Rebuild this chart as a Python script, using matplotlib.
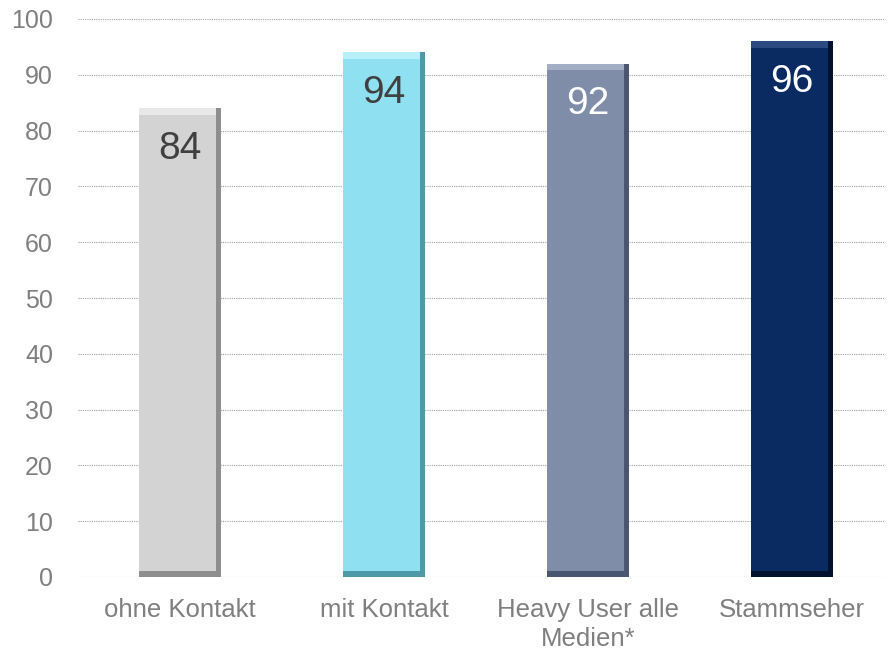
import matplotlib
matplotlib.use('Agg')
import matplotlib.pyplot as plt
import numpy as np

categories = ['ohne Kontakt', 'mit Kontakt', 'Heavy User alle\nMedien*', 'Stammseher']
values = [84, 94, 92, 96]
bar_colors = ['#d3d3d3', '#8fe0f0', '#7f8da8', '#0a2b62']
edge_dark = ['#8e8e8e', '#4f9aa8', '#4a5670', '#02122e']
edge_light = ['#e8e8e8', '#b8f0fa', '#a2aec4', '#2a4a80']
label_colors = ['#404040', '#404040', '#ffffff', '#ffffff']

plt.rcParams['font.family'] = ['Liberation Sans', 'DejaVu Sans']

fig = plt.figure(figsize=(8.88, 6.5), dpi=100)
ax = fig.add_axes([78 / 888, 73 / 650, 807 / 888, 558 / 650])

x = np.arange(len(values))
w = 0.4
ax.bar(x, values, width=w, color=bar_colors, zorder=3)
# bevel: top highlight, right and bottom dark strips
ax.bar(x, [1.2] * 4, bottom=np.array(values) - 1.2, width=w, color=edge_light, zorder=4)
ax.bar(x + w / 2 - 0.012, values, width=0.024, color=edge_dark, zorder=5)
ax.bar(x, [1.0] * 4, bottom=0, width=w, color=edge_dark, zorder=5)

for xi, v, c in zip(x, values, label_colors):
    ax.annotate(str(v), (xi, v), xytext=(0, -29), textcoords='offset points',
                ha='center', va='center', fontsize=28, color=c, zorder=6)

ax.set_xlim(-0.5, 3.456)
ax.set_ylim(0, 100)
ax.set_yticks(range(0, 101, 10))
ax.yaxis.grid(True, linestyle=(0, (1, 1)), color='#a0a0a0', linewidth=0.8, zorder=0)
ax.set_axisbelow(True)
for s in ax.spines.values():
    s.set_visible(False)
ax.tick_params(axis='both', length=0, colors='#7f7f7f')
ax.tick_params(axis='y', labelsize=18, pad=18)
ax.set_xticks(x)
ax.set_xticklabels(categories, fontsize=18.5, color='#7f7f7f', linespacing=1.25)
ax.tick_params(axis='x', pad=15)
for lab in ax.get_yticklabels():
    lab.set_color('#7f7f7f')

fig.savefig('out.png', dpi=100)
